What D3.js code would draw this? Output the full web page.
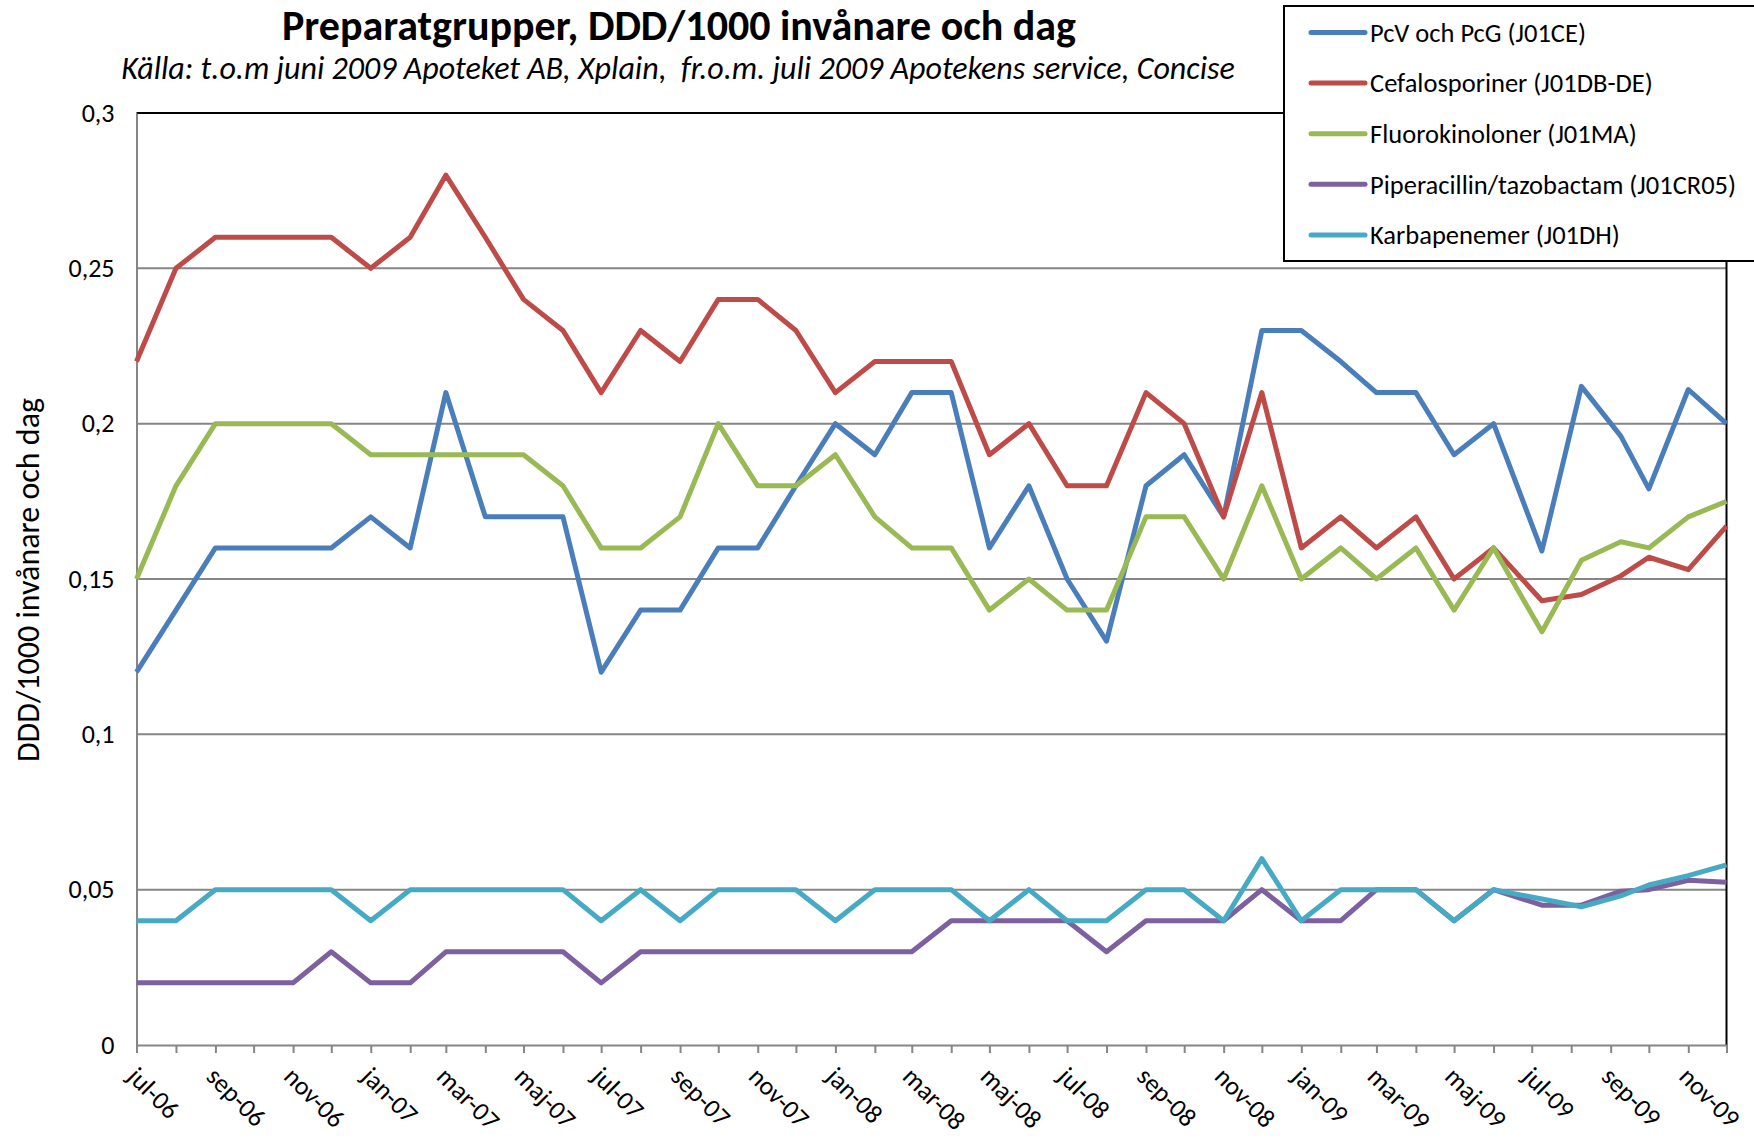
<!DOCTYPE html>
<html>
<head>
<meta charset="utf-8">
<script src="https://cdn.jsdelivr.net/npm/d3@7"></script>
<style>
  body { margin: 0; background: #fff; }
  svg { display: block; font-family: Carlito, Calibri, Lato, sans-serif; }
</style>
</head>
<body>
<svg id="chart" width="1754" height="1140"></svg>
<script>
// dates of each data point (the last months are registered mid-month)
const dates = [
  '2006-07-01', '2006-08-01', '2006-09-01', '2006-10-01', '2006-11-01', '2006-12-01',
  '2007-01-01', '2007-02-01', '2007-03-01', '2007-04-01', '2007-05-01', '2007-06-01',
  '2007-07-01', '2007-08-01', '2007-09-01', '2007-10-01', '2007-11-01', '2007-12-01',
  '2008-01-01', '2008-02-01', '2008-03-01', '2008-04-01', '2008-05-01', '2008-06-01',
  '2008-07-01', '2008-08-01', '2008-09-01', '2008-10-01', '2008-11-01', '2008-12-01',
  '2009-01-01', '2009-02-01', '2009-03-01', '2009-04-01', '2009-05-01', '2009-06-01',
  '2009-07-09', '2009-08-09', '2009-09-09', '2009-10-01', '2009-11-01', '2009-12-01'
]
const monthNames = ['jan', 'feb', 'mar', 'apr', 'maj', 'jun', 'jul', 'aug', 'sep', 'okt', 'nov', 'dec']

const pcv = [0.12, 0.14, 0.16, 0.16, 0.16, 0.16, 0.17, 0.16, 0.21, 0.17, 0.17, 0.17, 0.12, 0.14, 0.14, 0.16, 0.16, 0.18, 0.20, 0.19, 0.21,
  0.21, 0.16, 0.18, 0.15, 0.13, 0.18, 0.19, 0.17, 0.23, 0.23, 0.22, 0.21, 0.21, 0.19, 0.20, 0.159, 0.212, 0.196, 0.179, 0.211, 0.20]
const cefalosporiner = [0.22, 0.25, 0.26, 0.26, 0.26, 0.26, 0.25, 0.26, 0.28, 0.26, 0.24, 0.23, 0.21, 0.23, 0.22, 0.24, 0.24, 0.23, 0.21, 0.22, 0.22,
  0.22, 0.19, 0.20, 0.18, 0.18, 0.21, 0.20, 0.17, 0.21, 0.16, 0.17, 0.16, 0.17, 0.15, 0.16, 0.143, 0.145, 0.151, 0.157, 0.153, 0.167]
const fluorokinoloner = [0.15, 0.18, 0.20, 0.20, 0.20, 0.20, 0.19, 0.19, 0.19, 0.19, 0.19, 0.18, 0.16, 0.16, 0.17, 0.20, 0.18, 0.18, 0.19, 0.17, 0.16,
  0.16, 0.14, 0.15, 0.14, 0.14, 0.17, 0.17, 0.15, 0.18, 0.15, 0.16, 0.15, 0.16, 0.14, 0.16, 0.133, 0.156, 0.162, 0.160, 0.170, 0.175]
const piperacillin = [0.02, 0.02, 0.02, 0.02, 0.02, 0.03, 0.02, 0.02, 0.03, 0.03, 0.03, 0.03, 0.02, 0.03, 0.03, 0.03, 0.03, 0.03, 0.03, 0.03, 0.03,
  0.04, 0.04, 0.04, 0.04, 0.03, 0.04, 0.04, 0.04, 0.05, 0.04, 0.04, 0.05, 0.05, 0.04, 0.05, 0.045, 0.045, 0.0495, 0.050, 0.053, 0.0524]
const karbapenemer = [0.04, 0.04, 0.05, 0.05, 0.05, 0.05, 0.04, 0.05, 0.05, 0.05, 0.05, 0.05, 0.04, 0.05, 0.04, 0.05, 0.05, 0.05, 0.04, 0.05, 0.05,
  0.05, 0.04, 0.05, 0.04, 0.04, 0.05, 0.05, 0.04, 0.06, 0.04, 0.05, 0.05, 0.05, 0.04, 0.05, 0.047, 0.0445, 0.048, 0.0515, 0.0545, 0.058]

const seriesNames = ['PcV och PcG (J01CE)', 'Cefalosporiner (J01DB-DE)', 'Fluorokinoloner (J01MA)', 'Piperacillin/tazobactam (J01CR05)', 'Karbapenemer (J01DH)']
const seriesValues = [pcv, cefalosporiner, fluorokinoloner, piperacillin, karbapenemer]
const seriesColors = ['#4a7ebb', '#be4b48', '#98b954', '#7d60a0', '#46aac5']
const yTicks = [0, 0.05, 0.1, 0.15, 0.2, 0.25, 0.3]

const title = 'Preparatgrupper, DDD/1000 invånare och dag'
const subtitle = 'Källa: t.o.m juni 2009 Apoteket AB, Xplain,  fr.o.m. juli 2009 Apotekens service, Concise'
const yTitle = 'DDD/1000 invånare och dag'

const parse = d3.timeParse('%Y-%m-%d')
const points = dates.map(parse)
const margin = { left: 136.5, right: 1726.5, top: 113, bottom: 1045 }
const gray = '#868686'
const fontStack = 'Carlito, Calibri, Lato, sans-serif'

const svg = d3.select('#chart')

const x = d3.scaleTime().domain([points[0], points[points.length - 1]]).range([margin.left, margin.right])
const y = d3.scaleLinear().domain([0, 0.3]).range([margin.bottom, margin.top])

// gridlines
svg.append('g').selectAll('line').data(yTicks.slice(1, -1)).enter().append('line')
  .attr('x1', margin.left).attr('x2', margin.right)
  .attr('y1', d => y(d)).attr('y2', d => y(d))
  .attr('stroke', gray).attr('stroke-width', 2)

// plot frame: top and right black
svg.append('path')
  .attr('d', `M${margin.left},${margin.top}H${margin.right}V${margin.bottom}`)
  .attr('fill', 'none').attr('stroke', '#000').attr('stroke-width', 2)

// y axis
const comma = v => String(+v.toFixed(2)).replace('.', ',')
const yAxis = svg.append('g').attr('transform', `translate(${margin.left},0)`)
  .call(d3.axisLeft(y).tickValues(yTicks).tickSize(0).tickPadding(22).tickFormat(comma))
yAxis.select('.domain').attr('stroke', gray).attr('stroke-width', 2)
yAxis.selectAll('text').attr('font-size', 26).attr('fill', '#000').attr('font-family', fontStack)

// x axis: monthly ticks, label every second month
const months = d3.timeMonth.range(points[0], d3.timeMonth.offset(points[points.length - 1], 1))
const xAxis = svg.append('g').attr('transform', `translate(0,${margin.bottom})`)
  .call(d3.axisBottom(x).tickValues(months).tickSize(8).tickSizeOuter(0)
    .tickFormat((d, i) => i % 2 === 0 ? `${monthNames[d.getMonth()]}-${String(d.getFullYear()).slice(2)}` : ''))
xAxis.select('.domain').attr('stroke', gray).attr('stroke-width', 2)
xAxis.selectAll('.tick line').attr('stroke', gray).attr('stroke-width', 2)
xAxis.selectAll('text')
  .attr('font-size', 26).attr('fill', '#000').attr('font-family', fontStack)
  .attr('text-anchor', 'start').attr('y', 0).attr('dy', 0)
  .attr('transform', 'translate(-11,33) rotate(45)')

// lines
const line = d3.line().x((d, i) => x(points[i])).y(d => y(d))
svg.append('g').selectAll('path').data(seriesValues).enter().append('path')
  .attr('d', d => line(d))
  .attr('fill', 'none')
  .attr('stroke', (d, i) => seriesColors[i])
  .attr('stroke-width', 5)
  .attr('stroke-linejoin', 'round')

// titles
svg.append('text').attr('x', 679).attr('y', 40).attr('text-anchor', 'middle')
  .attr('font-size', 42).attr('font-weight', 'bold').text(title)
svg.append('text').attr('x', 678).attr('y', 79).attr('text-anchor', 'middle')
  .attr('font-size', 32).attr('font-style', 'italic').style('white-space', 'pre').text(subtitle)
svg.append('text').attr('transform', 'translate(28,580) rotate(-90)').attr('dy', '0.35em')
  .attr('text-anchor', 'middle').attr('font-size', 32).text(yTitle)

// legend
const legend = svg.append('g')
legend.append('rect').attr('x', 1284).attr('y', 6).attr('width', 500).attr('height', 255)
  .attr('fill', '#fff').attr('stroke', '#000').attr('stroke-width', 2)
const items = legend.selectAll('g.item').data(seriesNames).enter().append('g')
  .attr('transform', (d, i) => `translate(1311,${32.5 + i * 50.6})`)
items.append('line').attr('x1', 0).attr('x2', 54)
  .attr('stroke', (d, i) => seriesColors[i]).attr('stroke-width', 5).attr('stroke-linecap', 'round')
items.append('text').attr('x', 59).attr('dy', '0.35em').attr('font-size', 26.5).text(d => d)
</script>
</body>
</html>
